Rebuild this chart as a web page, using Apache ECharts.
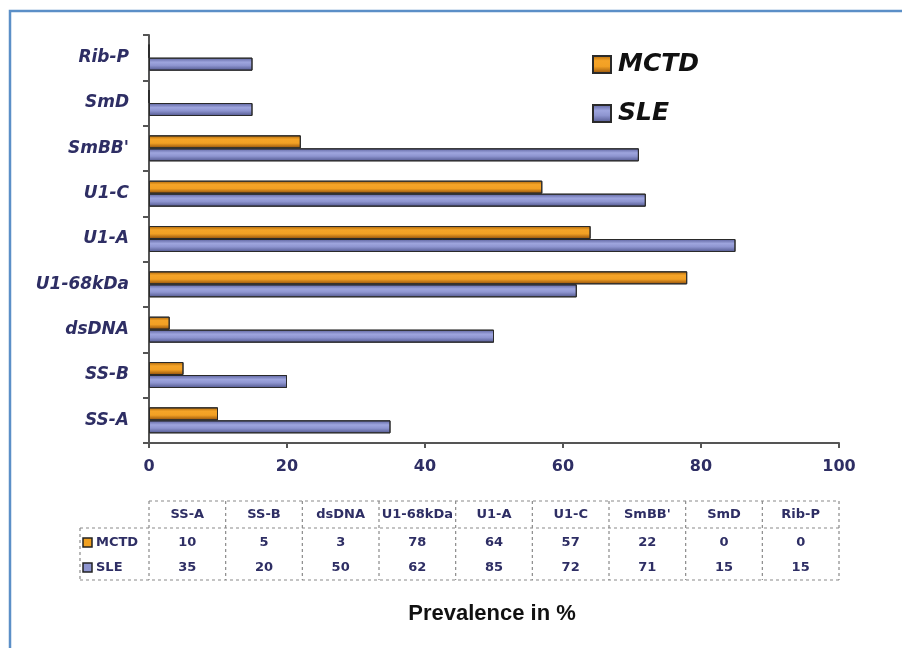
<!DOCTYPE html>
<html><head><meta charset="utf-8">
<script src="https://cdn.jsdelivr.net/npm/echarts@6/dist/echarts.min.js"></script>
<style>html,body{margin:0;padding:0;background:#fff}#c{width:902px;height:648px}</style>
</head><body><div id="c"></div>
<script>
const categories = ['SS-A','SS-B','dsDNA','U1-68kDa','U1-A','U1-C',"SmBB'",'SmD','Rib-P'];
const tableHeaders = ['SS-A','SS-B','dsDNA','U1-68kDa','U1-A','U1-C',"SmBB'",'SmD','Rib-P'];
const seriesNames = ['MCTD','SLE'];
const mctdValues = [10,5,3,78,64,57,22,0,0];
const sleValues = [35,20,50,62,85,72,71,15,15];
const xTickMin = 0, xTickMax = 100, xTickStep = 20;
const axisTitle = 'Prevalence in %';

const navy = '#2e2e64';
const orangeGrad = new echarts.graphic.LinearGradient(0,0,0,1,[
  {offset:0,color:'#a86208'},{offset:0.3,color:'#f5a428'},{offset:0.6,color:'#f2a024'},{offset:1,color:'#8c4c0a'}]);
const blueGrad = new echarts.graphic.LinearGradient(0,0,0,1,[
  {offset:0,color:'#5a609c'},{offset:0.35,color:'#9ea5de'},{offset:0.6,color:'#8e95d0'},{offset:1,color:'#4f558c'}]);

const chart = echarts.init(document.getElementById('c'), null, {renderer:'canvas'});
const gridLeft = 149, gridRight = 63, gridTop = 35, gridBottom = 205;

chart.setOption({
  animation:false,
  backgroundColor:'#ffffff',
  grid:{left:gridLeft,right:gridRight,top:gridTop,bottom:gridBottom,containLabel:false},
  legend:{
    orient:'vertical', left:592, top:52, padding:0, itemWidth:18, itemHeight:17, itemGap:24,
    icon:'rect', data:seriesNames,
    textStyle:{fontFamily:'DejaVu Sans',fontSize:25,fontWeight:'bold',fontStyle:'italic',color:'#111',padding:[0,0,0,2]}
  },
  xAxis:{
    type:'value', min:xTickMin, max:xTickMax, interval:xTickStep,
    axisLine:{show:true,lineStyle:{color:'#555',width:2}},
    axisTick:{show:true,length:5,lineStyle:{color:'#555',width:2}},
    splitLine:{show:false},
    axisLabel:{margin:16,color:navy,fontFamily:'DejaVu Sans',fontWeight:'bold',fontSize:16}
  },
  yAxis:{
    type:'category', data:categories,
    axisLine:{show:true,lineStyle:{color:'#555',width:2}},
    axisTick:{show:true,length:6,lineStyle:{color:'#555',width:2}},
    axisLabel:{margin:20,color:navy,fontFamily:'DejaVu Sans',fontWeight:'bold',fontStyle:'italic',fontSize:17}
  },
  series:[
    {name:seriesNames[0],type:'bar',data:mctdValues,barWidth:13,barGap:'0%',
     itemStyle:{color:orangeGrad,borderColor:'#2a2a2a',borderWidth:1}},
    {name:seriesNames[1],type:'bar',data:sleValues,barWidth:13,barGap:'0%',
     itemStyle:{color:blueGrad,borderColor:'#2a2a2a',borderWidth:1}}
  ]
});

// Data table below the axis, columns aligned to the x scale
const n = categories.length;
const colX = [];
for (let i = 0; i <= n; i++) colX.push(chart.convertToPixel({xAxisIndex:0}, xTickMin + i*(xTickMax-xTickMin)/n));
const yTop = 501, yMid = 528, yBot = 580, rowLabelLeft = 80;
const rowY = [543, 568];
const dash = {stroke:'#8a8a8a',lineWidth:1.2,lineDash:[3,3]};
const g = [];
g.push({type:'rect',shape:{x:10,y:11,width:1000,height:1000},style:{fill:'none',stroke:'#5b8fc7',lineWidth:2.5},z:100});
g.push({type:'line',shape:{x1:colX[0],y1:yTop,x2:colX[n],y2:yTop},style:dash});
g.push({type:'line',shape:{x1:rowLabelLeft,y1:yMid,x2:colX[n],y2:yMid},style:dash});
g.push({type:'line',shape:{x1:rowLabelLeft,y1:yBot,x2:colX[n],y2:yBot},style:dash});
g.push({type:'line',shape:{x1:rowLabelLeft,y1:yMid,x2:rowLabelLeft,y2:yBot},style:dash});
for (let i = 0; i <= n; i++) g.push({type:'line',shape:{x1:colX[i],y1:yTop,x2:colX[i],y2:yBot},style:dash});
const tFont = {fontFamily:'DejaVu Sans',fontWeight:'bold',fontSize:13,fill:navy};
for (let i = 0; i < n; i++) {
  const cx = (colX[i]+colX[i+1])/2;
  g.push({type:'text',x:cx,y:515,style:Object.assign({text:tableHeaders[i],align:'center',verticalAlign:'middle'},tFont)});
  g.push({type:'text',x:cx,y:rowY[0],style:Object.assign({text:String(mctdValues[i]),align:'center',verticalAlign:'middle'},tFont)});
  g.push({type:'text',x:cx,y:rowY[1],style:Object.assign({text:String(sleValues[i]),align:'center',verticalAlign:'middle'},tFont)});
}
const iconFills = ['#f0a020','#8e95d0'];
for (let r = 0; r < 2; r++) {
  g.push({type:'rect',shape:{x:83,y:rowY[r]-5,width:9,height:9},style:{fill:iconFills[r],stroke:'#222',lineWidth:1.5}});
  g.push({type:'text',x:96,y:rowY[r],style:Object.assign({text:seriesNames[r],align:'left',verticalAlign:'middle'},tFont)});
}
g.push({type:'text',x:492,y:614,style:{text:axisTitle,align:'center',verticalAlign:'middle',fontFamily:'Liberation Sans',fontWeight:'bold',fontSize:22,fill:'#111'}});
chart.setOption({graphic:g});
</script>
</body></html>
